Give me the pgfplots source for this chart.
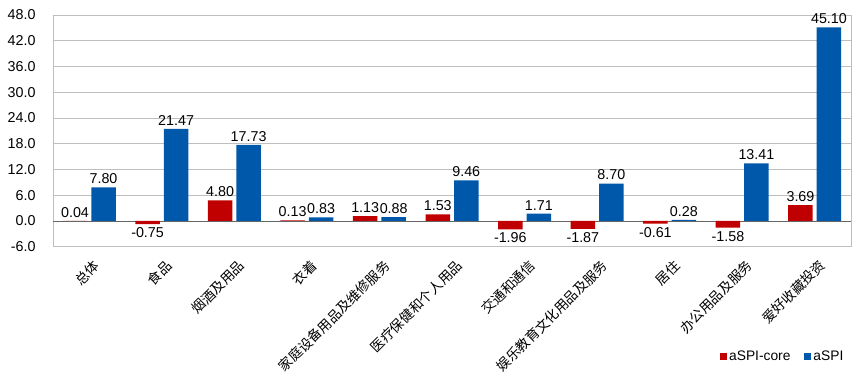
\documentclass[border=0pt]{standalone}
\usepackage{pgfplots}
\pgfplotsset{compat=1.18}
\usepackage{fontspec}
\setmainfont{Liberation Sans}
\newfontfamily\cjk{Noto Sans CJK SC}
\definecolor{cred}{RGB}{192,0,0}
\definecolor{cblue}{RGB}{0,88,170}
\definecolor{gridc}{RGB}{190,190,190}
\begin{document}
\begin{tikzpicture}[x=1pt,y=1pt]
\path (-53,-131.3) rectangle (810,246.7);
\begin{axis}[
  at={(0,0)}, anchor=south west,
  scale only axis, width=798pt, height=231.7pt,
  xmin=-0.5, xmax=10.5, ymin=-6, ymax=48,
  ytick={-6,0,6,...,48},
  xtick={0,...,10},
  xticklabels={总体,食品,烟酒及用品,衣着,家庭设备用品及维修服务,医疗保健和个人用品,交通和通信,娱乐教育文化用品及服务,居住,办公用品及服务,爱好收藏投资},
  x tick label style={font=\cjk\fontsize{13.6}{13.6}\selectfont, rotate=45, anchor=east, xshift=-6pt, yshift=-17pt, inner sep=0pt},
  y tick label style={font=\fontsize{14.3}{14.3}\selectfont, xshift=-14pt, /pgf/number format/.cd, fixed, fixed zerofill, precision=1, assume math mode=true},
  ymajorgrids, grid style={gridc, line width=0.8pt},
  axis line style={gridc, line width=0.8pt},
  major tick length=0pt,
  ybar=4pt, bar width=24.5pt,
  nodes near coords,
  nodes near coords style={font=\fontsize{14.3}{14.3}\selectfont, /pgf/number format/.cd, fixed, fixed zerofill, precision=2, assume math mode=true},
  legend style={at={(rel axis cs:0.997,-0.515)}, anchor=south east, draw=none, font=\fontsize{13.8}{13.8}\selectfont, legend columns=2, /tikz/every even column/.append style={column sep=12pt}},
  legend image code/.code={\fill[#1] (0pt,-3.5pt) rectangle (7pt,3.5pt);},
  extra y ticks={0}, extra y tick labels={}, extra y tick style={grid style={gray!80!black, line width=0.8pt}},
]
\addplot[fill=cred, draw=none] coordinates {(0,0.04) (1,-0.75) (2,4.80) (3,0.13) (4,1.13) (5,1.53) (6,-1.96) (7,-1.87) (8,-0.61) (9,-1.58) (10,3.69)};
\addplot[fill=cblue, draw=none] coordinates {(0,7.80) (1,21.47) (2,17.73) (3,0.83) (4,0.88) (5,9.46) (6,1.71) (7,8.70) (8,0.28) (9,13.41) (10,45.10)};
\legend{aSPI-core,aSPI}
\end{axis}
\end{tikzpicture}
\end{document}
